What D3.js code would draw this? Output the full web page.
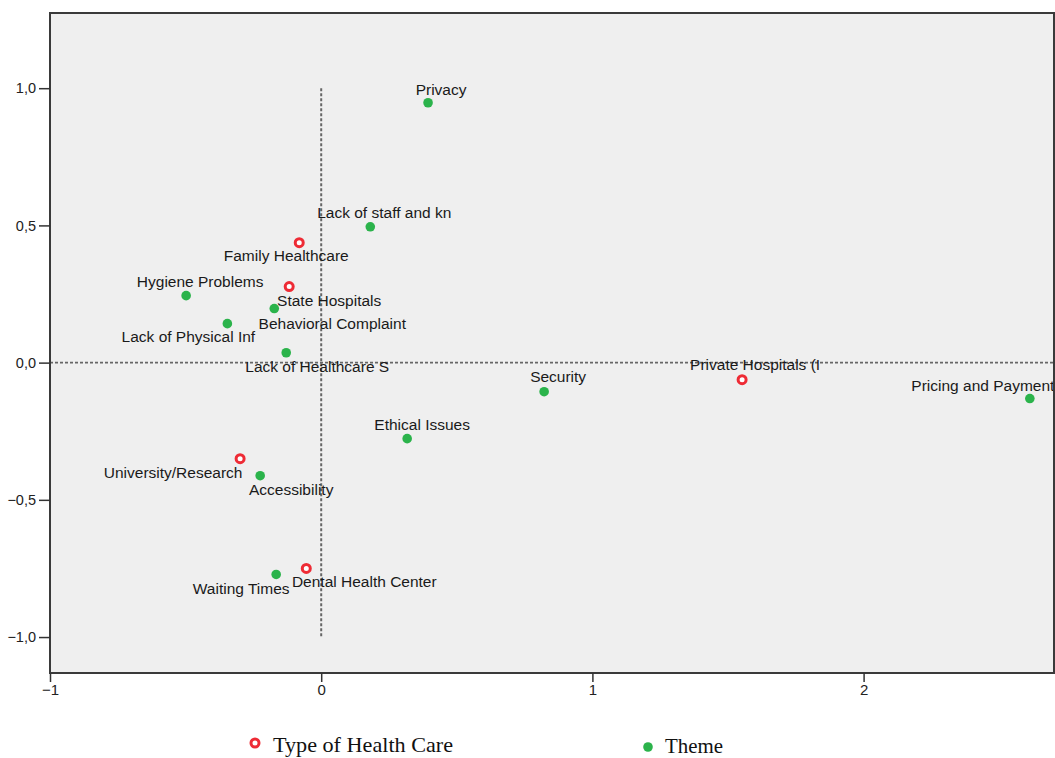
<!DOCTYPE html>
<html><head><meta charset="utf-8">
<script src="https://cdn.jsdelivr.net/npm/d3@7"></script>
<style>
html,body{margin:0;padding:0;background:#fff;}
svg{display:block;}
</style></head>
<body>
<svg id="chart" width="1055" height="758"></svg>
<script>
// ---- data ----
const careNames = ["Family Healthcare","State Hospitals","Private Hospitals (I","University/Research","Dental Health Center"];
const careX = [-0.081,-0.118,1.552,-0.299,-0.055];
const careY = [0.437,0.277,-0.062,-0.350,-0.750];

const themeNames = ["Privacy","Lack of staff and kn","Hygiene Problems","Behavioral Complaint","Lack of Physical Inf","Lack of Healthcare S","Security","Pricing and Payment","Ethical Issues","Accessibility","Waiting Times"];
const themeX = [0.394,0.181,-0.498,-0.173,-0.346,-0.129,0.822,2.613,0.317,-0.225,-0.166];
const themeY = [0.947,0.495,0.244,0.197,0.142,0.036,-0.106,-0.131,-0.277,-0.412,-0.772];

const xTicks = [-1,0,1,2];
const yTicks = [-1.0,-0.5,0.0,0.5,1.0];
const legendLabels = ["Type of Health Care","Theme"];

// ---- layout (label offsets in px, relative to marker) ----
const labelOffset = {
  "Privacy":[13,-13],"Lack of staff and kn":[14,-14],"Family Healthcare":[-13,13],
  "Hygiene Problems":[14,-14],"State Hospitals":[40,14],"Behavioral Complaint":[58,15],
  "Lack of Physical Inf":[-39,13],"Lack of Healthcare S":[31,14],"Security":[14,-15],
  "Private Hospitals (I":[13,-15],"Pricing and Payment":[-47,-13],"Ethical Issues":[15,-14],
  "University/Research":[-67,14],"Accessibility":[31,14],"Waiting Times":[-35,14],
  "Dental Health Center":[58,13]
};

const svg = d3.select("#chart");
const L=50, R=1054, T=13, B=673;
const x = d3.scaleLinear().domain([-1, 2.7]).range([L, L + 3.7*271.2]);
const y = d3.scaleLinear().domain([-1.131, 1.274]).range([B, T]);

const clipId = "plotclip";
svg.append("clipPath").attr("id",clipId).append("rect").attr("x",L).attr("y",T).attr("width",R-L).attr("height",B-T);

svg.append("rect").attr("x",L).attr("y",T).attr("width",R-L).attr("height",B-T).attr("fill","#efefef");

const plot = svg.append("g").attr("clip-path",`url(#${clipId})`);

// reference lines
plot.append("line").attr("x1",x(0)).attr("x2",x(0)).attr("y1",y(1)).attr("y2",y(-1))
  .attr("stroke","#666").attr("stroke-width",2).attr("stroke-dasharray","3,2");
plot.append("line").attr("x1",L).attr("x2",R).attr("y1",y(0)).attr("y2",y(0))
  .attr("stroke","#666").attr("stroke-width",1.6).attr("stroke-dasharray","3,2");

// frame
svg.append("rect").attr("x",L).attr("y",T).attr("width",R-L).attr("height",B-T)
  .attr("fill","none").attr("stroke","#3a3a3a").attr("stroke-width",2);

// axes
const yAxis = d3.axisLeft(y).tickValues(yTicks).tickSize(11).tickPadding(3).tickFormat(d=>d3.format(".1f")(d).replace(".",","));
const gy = svg.append("g").attr("transform",`translate(${L},0)`).call(yAxis);
gy.select(".domain").remove();
gy.selectAll("line").attr("stroke","#333").attr("stroke-width",1.5);
gy.selectAll("text").attr("font-family","Liberation Sans, Arial, sans-serif").attr("font-size",14.5).attr("fill","#222");

const xAxis = d3.axisBottom(x).tickValues(xTicks).tickSize(9).tickFormat(d3.format("d"));
const gx = svg.append("g").attr("transform",`translate(0,${B})`).call(xAxis);
gx.select(".domain").remove();
gx.selectAll("line").attr("stroke","#333").attr("stroke-width",1.5);
gx.selectAll("text").attr("font-family","Liberation Sans Narrow, Arial Narrow, sans-serif").attr("font-size",15).attr("fill","#222").attr("y",11);

// points
const care = careNames.map((n,i)=>({name:n,x:careX[i],y:careY[i],type:"care"}));
const theme = themeNames.map((n,i)=>({name:n,x:themeX[i],y:themeY[i],type:"theme"}));
const all = care.concat(theme);

plot.selectAll("text.lbl").data(all).join("text").attr("class","lbl")
  .attr("x",d=>x(d.x)+labelOffset[d.name][0])
  .attr("y",d=>y(d.y)+labelOffset[d.name][1])
  .attr("text-anchor","middle").attr("dominant-baseline","central")
  .attr("font-family","Liberation Sans, Arial, sans-serif").attr("font-size",15.5).attr("fill","#1a1a1a")
  .text(d=>d.name);

plot.selectAll("circle.theme").data(theme).join("circle").attr("class","theme")
  .attr("cx",d=>x(d.x)).attr("cy",d=>y(d.y)).attr("r",4.8).attr("fill","#2bb34b");
plot.selectAll("circle.care").data(care).join("circle").attr("class","care")
  .attr("cx",d=>x(d.x)).attr("cy",d=>y(d.y)).attr("r",4).attr("fill","#fff")
  .attr("stroke","#ee2b35").attr("stroke-width",3);

// legend
const lg = svg.append("g");
lg.append("circle").attr("cx",255).attr("cy",743).attr("r",4).attr("fill","#fff").attr("stroke","#ee2b35").attr("stroke-width",3);
lg.append("text").attr("x",273).attr("y",752).attr("font-family","Liberation Serif, Times New Roman, serif").attr("font-size",21)
  .attr("textLength",180).attr("lengthAdjust","spacingAndGlyphs").attr("fill","#111").text(legendLabels[0]);
lg.append("circle").attr("cx",648).attr("cy",747).attr("r",4.8).attr("fill","#2bb34b");
lg.append("text").attr("x",665).attr("y",753).attr("font-family","Liberation Serif, Times New Roman, serif").attr("font-size",20)
  .attr("textLength",58).attr("lengthAdjust","spacingAndGlyphs").attr("fill","#111").text(legendLabels[1]);
</script>
</body></html>
